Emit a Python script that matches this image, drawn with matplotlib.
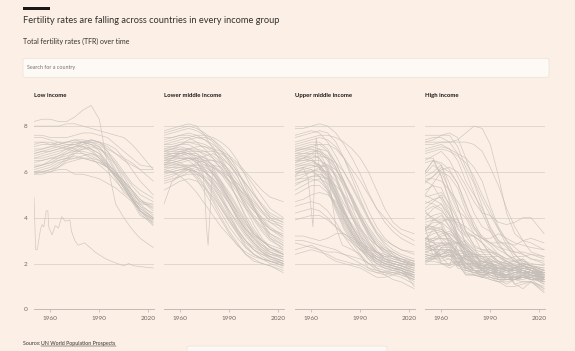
import matplotlib
matplotlib.use("Agg")
import matplotlib.pyplot as plt
from matplotlib.patches import Rectangle, FancyBboxPatch
from matplotlib.lines import Line2D

plt.rcParams['font.family'] = ['Lato', 'DejaVu Sans']

# ---------------- data ----------------
YEARS = [1950, 1955, 1960, 1965, 1970, 1975, 1980, 1985, 1990, 1995, 2000, 2005, 2010, 2015, 2023]

PANEL_TITLES = ["Low income", "Lower middle income", "Upper middle income", "High income"]
X_TICKS = [1960, 1990, 2020]
Y_TICKS = [0, 2, 4, 6, 8]

LOW = [
    [8.2, 8.3, 8.3, 8.2, 8.2, 8.4, 8.7, 8.9, 8.3, 6.3, 4.6, 4.0, 3.5, 3.1, 2.7],
    [8.0, 8.0, 8.0, 8.0, 8.1, 8.1, 8.0, 7.9, 7.8, 7.7, 7.6, 7.5, 7.2, 6.8, 6.1],
    [7.6, 7.6, 7.5, 7.5, 7.5, 7.6, 7.7, 7.7, 7.6, 7.5, 7.2, 6.9, 6.6, 6.3, 6.2],
    [7.5, 7.5, 7.4, 7.3, 7.2, 7.2, 7.3, 7.4, 7.3, 7.0, 6.8, 6.6, 6.4, 6.1, 5.6],
    [7.3, 7.3, 7.2, 7.2, 7.3, 7.4, 7.4, 7.3, 7.2, 6.9, 6.5, 6.0, 5.5, 5.2, 4.85],
    [7.1, 7.2, 7.2, 7.3, 7.3, 7.3, 7.3, 7.2, 7.0, 6.8, 6.4, 5.9, 5.4, 5.0, 4.7],
    [7.0, 7.0, 7.1, 7.2, 7.3, 7.4, 7.3, 7.0, 6.6, 6.2, 5.8, 5.4, 5.0, 4.7, 4.6],
    [6.9, 7.0, 7.1, 7.1, 7.0, 6.9, 6.9, 6.8, 6.6, 6.3, 6.0, 5.6, 5.1, 4.7, 4.4],
    [6.8, 6.9, 7.0, 7.1, 7.2, 7.2, 7.1, 6.9, 6.6, 6.2, 5.8, 5.4, 4.9, 4.5, 4.2],
    [6.7, 6.8, 6.9, 7.0, 7.1, 7.3, 7.3, 7.2, 6.9, 6.4, 5.9, 5.3, 4.8, 4.4, 4.0],
    [6.6, 6.7, 6.8, 6.9, 7.0, 7.1, 7.2, 7.3, 7.1, 6.6, 6.0, 5.4, 4.8, 4.3, 3.9],
    [6.5, 6.5, 6.6, 6.7, 6.8, 6.9, 7.0, 7.1, 7.0, 6.7, 6.3, 5.8, 5.2, 4.6, 4.1],
    [6.4, 6.5, 6.6, 6.6, 6.7, 6.8, 6.8, 6.7, 6.5, 6.2, 5.9, 5.5, 5.0, 4.5, 4.0],
    [6.3, 6.3, 6.4, 6.5, 6.6, 6.6, 6.7, 6.8, 6.7, 6.3, 5.8, 5.3, 4.8, 4.3, 3.8],
    [6.2, 6.3, 6.4, 6.6, 6.8, 7.0, 7.2, 7.4, 7.3, 6.9, 6.3, 5.6, 4.9, 4.3, 3.9],
    [6.1, 6.2, 6.3, 6.5, 6.6, 6.7, 6.6, 6.5, 6.4, 6.2, 5.9, 5.5, 4.9, 4.3, 3.7],
    [6.0, 6.1, 6.2, 6.4, 6.5, 6.6, 6.6, 6.5, 6.4, 6.2, 5.9, 5.6, 5.2, 4.8, 4.3],
    [6.0, 6.0, 6.1, 6.2, 6.4, 6.5, 6.6, 6.6, 6.5, 6.2, 5.8, 5.3, 4.8, 4.2, 3.65],
    [5.9, 6.0, 6.1, 6.3, 6.6, 6.9, 7.1, 7.2, 7.1, 6.7, 6.1, 5.4, 4.7, 4.1, 3.8],
    [5.9, 5.9, 6.0, 6.2, 6.5, 6.8, 7.0, 7.0, 6.8, 6.4, 6.0, 5.6, 5.2, 4.8, 4.45],
    [6.2, 6.3, 6.5, 6.7, 6.9, 7.1, 7.3, 7.4, 7.3, 7.1, 6.8, 6.5, 6.3, 6.1, 6.1],
    [6.6, 6.6, 6.7, 6.8, 7.0, 7.1, 7.1, 7.0, 6.8, 6.3, 5.7, 5.1, 4.8, 4.6, 4.55],
    [7.2, 7.3, 7.3, 7.2, 7.1, 7.0, 6.8, 6.6, 6.3, 6.0, 5.6, 5.2, 4.8, 4.4, 4.0],
    [6.0, 6.0, 6.0, 6.1, 6.1, 5.9, 5.9, 5.8, 5.7, 5.5, 5.3, 5.0, 4.7, 4.3, 3.95],
    [6.8, 6.9, 6.9, 7.0, 7.1, 7.2, 7.3, 7.3, 7.3, 7.2, 7.0, 6.6, 6.1, 5.6, 5.0],
]

# irregular-year series in the low income panel
LOW_EXTRA_YEARS = [1950, 1951, 1952, 1954, 1955, 1956, 1957.5, 1958.5, 1959, 1961, 1963, 1965,
                   1967, 1969, 1972, 1973, 1975, 1977, 1981, 1988, 1994, 1999, 2005, 2008, 2011, 2023]
LOW_EXTRA = [4.9, 2.6, 2.6, 3.5, 3.7, 3.6, 4.3, 4.3, 3.6, 3.25, 3.65, 3.55,
             4.05, 3.85, 3.9, 3.4, 3.0, 2.8, 2.9, 2.47, 2.2, 2.05, 1.9, 2.0, 1.9, 1.8]

LMID = [
    [7.8, 7.9, 8.0, 8.1, 8.0, 7.6, 7.0, 6.4, 5.8, 5.2, 4.6, 4.0, 3.5, 3.1, 2.8],
    [7.6, 7.7, 7.8, 7.9, 7.8, 7.6, 7.3, 6.9, 6.4, 5.8, 5.1, 4.5, 4.0, 3.6, 3.2],
    [7.5, 7.5, 7.6, 7.6, 7.5, 7.4, 7.2, 6.9, 6.5, 6.0, 5.5, 5.0, 4.5, 4.0, 3.5],
    [7.3, 7.4, 7.5, 7.5, 7.3, 7.0, 6.6, 6.1, 5.5, 4.8, 4.1, 3.5, 3.0, 2.7, 2.4],
    [7.2, 7.2, 7.3, 7.3, 7.2, 7.1, 7.0, 6.9, 6.7, 6.4, 6.0, 5.6, 5.2, 4.9, 4.7],
    [7.1, 7.1, 7.2, 7.2, 7.0, 6.7, 6.2, 5.6, 4.9, 4.2, 3.6, 3.1, 2.7, 2.4, 2.2],
    [7.0, 7.0, 7.1, 7.0, 6.8, 6.4, 5.9, 5.3, 4.6, 3.9, 3.3, 2.9, 2.6, 2.3, 2.0],
    [6.9, 7.0, 7.0, 7.0, 6.9, 6.8, 6.6, 6.3, 5.9, 5.4, 4.8, 4.3, 3.9, 3.5, 3.1],
    [6.9, 6.9, 7.0, 6.9, 6.6, 6.1, 5.5, 4.9, 4.2, 3.5, 3.0, 2.6, 2.3, 2.1, 1.9],
    [6.8, 6.9, 6.9, 6.8, 6.7, 6.6, 6.5, 6.2, 5.8, 5.2, 4.6, 4.1, 3.8, 3.5, 3.3],
    [6.8, 6.8, 6.8, 6.7, 6.4, 6.0, 5.4, 4.8, 4.1, 3.4, 2.8, 2.4, 2.2, 2.1, 2.0],
    [6.7, 6.8, 6.9, 7.0, 7.0, 6.9, 6.7, 6.4, 5.9, 5.3, 4.7, 4.3, 4.0, 3.8, 3.6],
    [6.7, 6.7, 6.6, 6.5, 6.2, 5.7, 5.1, 4.5, 3.9, 3.3, 2.7, 2.4, 2.2, 2.1, 1.9],
    [6.6, 6.7, 6.8, 6.8, 6.7, 6.5, 6.1, 5.5, 4.8, 4.1, 3.5, 3.0, 2.7, 2.5, 2.3],
    [6.6, 6.6, 6.6, 6.6, 6.5, 6.4, 6.2, 5.9, 5.6, 5.3, 5.0, 4.6, 4.2, 3.9, 3.7],
    [6.5, 6.6, 6.7, 6.8, 6.8, 6.6, 6.3, 5.9, 5.4, 4.9, 4.4, 4.0, 3.6, 3.3, 3.0],
    [6.5, 6.5, 6.4, 6.2, 5.9, 5.4, 4.8, 4.2, 3.6, 3.1, 2.7, 2.4, 2.2, 2.0, 1.8],
    [6.4, 6.5, 6.6, 6.6, 6.5, 6.3, 5.9, 5.4, 4.8, 4.2, 3.7, 3.3, 3.0, 2.7, 2.5],
    [6.3, 6.4, 6.5, 6.6, 6.6, 6.5, 6.3, 6.0, 5.6, 5.1, 4.5, 3.9, 3.4, 3.0, 2.7],
    [6.3, 6.3, 6.3, 6.2, 6.0, 5.6, 5.0, 4.4, 3.8, 3.3, 2.9, 2.6, 2.4, 2.3, 2.1],
    [6.2, 6.3, 6.4, 6.5, 6.6, 6.7, 6.8, 6.6, 6.3, 5.9, 5.5, 5.0, 4.6, 4.2, 3.9],
    [6.2, 6.2, 6.2, 6.1, 5.8, 5.3, 4.7, 4.0, 3.4, 2.9, 2.4, 2.1, 2.0, 1.9, 1.7],
    [6.1, 6.2, 6.3, 6.3, 6.2, 6.0, 5.7, 5.3, 4.8, 4.3, 3.8, 3.3, 2.9, 2.5, 2.2],
    [6.0, 6.1, 6.2, 6.3, 6.3, 6.2, 6.0, 5.6, 5.1, 4.5, 3.9, 3.4, 3.0, 2.7, 2.4],
    [6.0, 6.0, 6.1, 6.1, 6.0, 5.8, 5.5, 5.1, 4.6, 4.0, 3.4, 2.9, 2.5, 2.2, 2.0],
    [5.9, 6.0, 6.1, 6.2, 6.3, 6.3, 6.2, 6.0, 5.8, 5.5, 5.1, 4.7, 4.3, 4.0, 3.8],
    [5.8, 5.9, 6.0, 6.1, 6.0, 5.7, 5.2, 4.6, 4.0, 3.5, 3.0, 2.6, 2.4, 2.2, 2.0],
    [5.7, 5.8, 6.0, 6.2, 6.4, 6.5, 6.5, 6.4, 6.1, 5.6, 5.0, 4.4, 3.8, 3.3, 2.9],
    [5.6, 5.7, 5.8, 5.9, 5.9, 5.7, 5.3, 4.8, 4.3, 3.8, 3.3, 2.9, 2.6, 2.4, 2.3],
    [4.6, 5.6, 5.9, 6.1, 6.2, 6.1, 5.9, 5.5, 5.0, 4.4, 3.8, 3.2, 2.8, 2.5, 2.3],
    [7.4, 7.5, 7.6, 7.7, 7.6, 7.4, 7.1, 6.6, 6.0, 5.2, 4.4, 3.7, 3.1, 2.7, 2.4],
    [7.0, 7.1, 7.2, 7.3, 7.3, 7.2, 7.0, 6.7, 6.3, 5.8, 5.1, 4.4, 3.7, 3.1, 2.6],
    [6.4, 6.4, 6.3, 6.1, 5.7, 5.1, 4.5, 3.9, 3.3, 2.8, 2.4, 2.2, 2.0, 1.9, 1.6],
    [6.1, 6.0, 5.8, 5.5, 5.1, 4.6, 4.1, 3.6, 3.2, 2.8, 2.5, 2.3, 2.2, 2.1, 1.9],
    [6.9, 7.0, 7.2, 7.4, 7.5, 7.5, 7.4, 7.1, 6.7, 6.1, 5.3, 4.5, 3.8, 3.2, 2.8],
    [7.7, 7.8, 7.9, 8.0, 7.9, 7.7, 7.4, 7.0, 6.5, 6.0, 5.4, 4.8, 4.3, 3.8, 3.4],
    [6.7, 6.8, 6.8, 6.9, 6.9, 6.9, 6.9, 6.8, 6.6, 6.3, 5.9, 5.4, 4.9, 4.4, 4.0],
    [6.3, 6.4, 6.5, 6.6, 6.6, 6.4, 6.0, 5.4, 4.7, 4.0, 3.5, 3.2, 3.0, 2.8, 2.6],
    [6.6, 6.7, 6.7, 6.6, 6.4, 6.1, 5.6, 5.0, 4.3, 3.7, 3.2, 2.8, 2.5, 2.3, 2.1],
    [7.2, 7.3, 7.4, 7.5, 7.6, 7.6, 7.5, 7.3, 7.0, 6.5, 5.8, 5.1, 4.5, 4.1, 3.8],
    [5.2, 5.4, 5.6, 5.7, 5.6, 5.3, 4.9, 4.4, 3.9, 3.4, 3.0, 2.7, 2.5, 2.3, 2.1],
    [5.5, 5.6, 5.8, 6.0, 6.1, 6.0, 5.7, 5.2, 4.6, 4.0, 3.5, 3.1, 2.8, 2.6, 2.4],
    [6.5, 6.6, 6.8, 7.0, 7.1, 7.1, 6.9, 6.5, 6.0, 5.4, 4.9, 4.4, 3.9, 3.5, 3.2],
]

LMID_EXTRA_YEARS = [1950, 1955, 1960, 1965, 1970, 1974, 1975, 1976, 1977, 1978, 1979, 1980,
                    1985, 1990, 1995, 2000, 2005, 2010, 2015, 2023]
LMID_EXTRA = [6.3, 6.6, 6.9, 6.8, 6.5, 5.9, 5.0, 3.6, 2.8, 4.0, 5.3, 6.3,
              6.2, 5.6, 4.8, 4.0, 3.3, 3.0, 2.7, 2.4]

UMID = [
    [7.9, 7.9, 8.0, 8.1, 8.0, 7.7, 7.2, 6.6, 5.9, 5.1, 4.4, 3.8, 3.4, 3.1, 2.8],
    [7.6, 7.7, 7.8, 7.7, 7.3, 6.7, 6.0, 5.3, 4.6, 3.9, 3.3, 2.9, 2.6, 2.4, 2.2],
    [7.3, 7.4, 7.5, 7.6, 7.6, 7.5, 7.3, 7.0, 6.6, 6.0, 5.2, 4.4, 3.8, 3.5, 3.3],
    [7.1, 7.2, 7.3, 7.3, 7.0, 6.4, 5.6, 4.8, 4.0, 3.3, 2.8, 2.5, 2.3, 2.1, 1.9],
    [7.0, 7.1, 7.2, 7.2, 6.9, 6.2, 5.3, 4.4, 3.6, 3.0, 2.5, 2.2, 2.0, 1.9, 1.6],
    [6.9, 7.0, 7.0, 6.8, 6.2, 5.3, 4.4, 3.6, 3.0, 2.6, 2.3, 2.1, 2.0, 1.9, 1.7],
    [6.8, 6.9, 7.0, 6.9, 6.5, 5.7, 4.8, 4.0, 3.3, 2.8, 2.4, 2.1, 1.9, 1.8, 1.5],
    [6.8, 6.8, 6.8, 6.6, 6.0, 5.0, 4.1, 3.4, 2.9, 2.5, 2.2, 2.0, 1.8, 1.7, 1.4],
    [6.7, 6.8, 6.9, 6.9, 6.7, 6.2, 5.5, 4.7, 3.9, 3.2, 2.6, 2.2, 2.0, 1.9, 1.8],
    [6.7, 6.7, 6.6, 6.2, 5.4, 4.4, 3.6, 3.0, 2.6, 2.3, 2.1, 2.0, 1.9, 1.8, 1.6],
    [6.6, 6.7, 6.8, 6.8, 6.6, 6.1, 5.5, 4.9, 4.2, 3.6, 3.1, 2.7, 2.5, 2.3, 2.1],
    [6.5, 6.6, 6.7, 6.6, 6.1, 5.2, 4.3, 3.5, 2.9, 2.4, 2.0, 1.8, 1.7, 1.6, 1.3],
    [6.4, 6.6, 6.8, 7.0, 6.9, 6.4, 5.6, 4.7, 3.9, 3.3, 2.8, 2.5, 2.3, 2.2, 2.0],
    [6.4, 6.5, 6.5, 6.3, 5.8, 4.9, 4.0, 3.3, 2.8, 2.5, 2.3, 2.2, 2.1, 2.0, 1.8],
    [6.3, 6.4, 6.5, 6.5, 6.3, 5.8, 5.0, 4.2, 3.5, 2.9, 2.5, 2.3, 2.1, 2.0, 1.9],
    [6.2, 6.3, 6.4, 6.3, 5.9, 5.1, 4.2, 3.4, 2.8, 2.4, 2.1, 1.9, 1.8, 1.7, 1.5],
    [6.1, 6.2, 6.3, 6.2, 5.7, 4.9, 4.0, 3.3, 2.8, 2.4, 2.1, 1.9, 1.8, 1.6, 1.2],
    [6.0, 6.1, 6.2, 6.3, 6.2, 5.9, 5.4, 4.8, 4.1, 3.4, 2.8, 2.4, 2.2, 2.1, 2.0],
    [5.9, 6.0, 6.1, 6.0, 5.6, 4.8, 3.9, 3.2, 2.7, 2.3, 2.0, 1.8, 1.7, 1.6, 1.4],
    [5.8, 5.9, 6.0, 6.1, 6.0, 5.6, 4.9, 4.1, 3.4, 2.9, 2.5, 2.2, 2.1, 2.0, 1.9],
    [5.6, 5.8, 6.0, 6.2, 6.3, 6.1, 5.6, 4.9, 4.1, 3.4, 2.9, 2.6, 2.4, 2.2, 2.0],
    [5.4, 5.6, 5.8, 5.9, 5.7, 5.1, 4.3, 3.6, 3.0, 2.6, 2.3, 2.1, 2.0, 1.9, 1.7],
    [5.2, 5.4, 5.6, 5.7, 5.5, 4.9, 4.2, 3.6, 3.1, 2.7, 2.4, 2.2, 2.1, 2.0, 1.8],
    [5.0, 5.2, 5.4, 5.4, 5.1, 4.5, 3.8, 3.2, 2.7, 2.4, 2.2, 2.0, 1.9, 1.8, 1.6],
    [4.7, 4.8, 5.0, 5.1, 5.0, 4.7, 4.2, 3.7, 3.2, 2.8, 2.5, 2.3, 2.2, 2.1, 2.0],
    [4.5, 4.6, 4.7, 4.6, 4.3, 3.8, 3.2, 2.7, 2.3, 2.0, 1.8, 1.7, 1.6, 1.5, 1.3],
    [4.2, 4.3, 4.4, 4.3, 4.0, 3.6, 3.2, 2.9, 2.6, 2.4, 2.2, 2.1, 2.0, 1.9, 1.7],
    [3.9, 4.0, 4.1, 4.1, 3.9, 3.6, 3.3, 3.0, 2.8, 2.6, 2.5, 2.4, 2.3, 2.2, 2.1],
    [3.2, 3.2, 3.1, 3.0, 3.1, 3.3, 3.3, 3.1, 2.9, 2.7, 2.5, 2.3, 2.3, 2.2, 1.9],
    [2.9, 2.8, 2.7, 2.6, 2.5, 2.5, 2.4, 2.3, 2.2, 2.0, 1.9, 1.8, 1.8, 1.7, 1.5],
    [2.6, 2.7, 2.8, 2.6, 2.3, 2.1, 2.0, 1.9, 1.8, 1.6, 1.4, 1.4, 1.5, 1.6, 1.4],
    [2.4, 2.5, 2.6, 2.5, 2.4, 2.2, 2.1, 2.0, 1.9, 1.7, 1.6, 1.5, 1.6, 1.6, 1.5],
    [3.0, 3.0, 2.9, 2.8, 2.7, 2.6, 2.4, 2.2, 2.0, 1.8, 1.7, 1.6, 1.6, 1.5, 1.3],
    [6.9, 7.0, 7.1, 7.0, 6.6, 5.8, 4.9, 4.0, 3.2, 2.6, 2.2, 2.0, 1.9, 1.8, 1.6],
    [7.2, 7.3, 7.4, 7.5, 7.4, 7.1, 6.6, 5.9, 5.1, 4.3, 3.6, 3.1, 2.8, 2.6, 2.4],
    [6.5, 6.5, 6.6, 6.7, 6.6, 6.4, 6.0, 5.4, 4.7, 4.0, 3.4, 3.0, 2.8, 2.6, 2.5],
    [6.3, 6.3, 6.3, 6.2, 5.8, 5.1, 4.3, 3.6, 3.0, 2.5, 2.2, 2.0, 1.9, 1.7, 1.4],
    [6.0, 6.0, 6.0, 5.8, 5.3, 4.5, 3.7, 3.1, 2.6, 2.2, 2.0, 1.9, 1.8, 1.7, 1.5],
    [7.5, 7.6, 7.7, 7.8, 7.7, 7.3, 6.6, 5.7, 4.8, 4.0, 3.3, 2.8, 2.4, 2.1, 1.9],
    [6.6, 6.6, 6.5, 6.3, 5.9, 5.3, 4.6, 4.0, 3.5, 3.1, 2.8, 2.6, 2.5, 2.3, 2.1],
    [5.7, 5.7, 5.8, 5.8, 5.7, 5.4, 5.0, 4.5, 4.0, 3.5, 3.0, 2.6, 2.3, 2.1, 1.9],
    [6.1, 6.2, 6.1, 5.8, 5.2, 4.3, 3.5, 2.9, 2.4, 2.0, 1.7, 1.6, 1.5, 1.4, 1.1],
    [5.5, 5.6, 5.7, 5.6, 5.2, 4.6, 3.9, 3.3, 2.7, 2.2, 1.8, 1.5, 1.3, 1.2, 0.9],
    [7.0, 7.0, 7.1, 7.2, 7.2, 7.0, 6.6, 6.1, 5.6, 5.0, 4.4, 4.0, 3.6, 3.3, 3.0],
]

UMID_EXTRA_YEARS = [1950, 1955, 1958, 1960, 1961, 1962, 1963, 1965, 1968, 1970, 1973, 1975,
                    1979, 1985, 1990, 1995, 2000, 2010, 2015, 2023]
UMID_EXTRA = [5.8, 6.2, 5.7, 4.3, 3.6, 6.0, 7.5, 6.1, 6.4, 6.1, 4.6, 3.6,
              2.8, 2.6, 2.4, 1.8, 1.6, 1.7, 1.8, 1.0]

HIGH = [
    [7.3, 7.3, 7.3, 7.3, 7.4, 7.7, 8.0, 7.9, 7.2, 5.8, 4.2, 3.3, 3.0, 2.9, 2.6],
    [7.2, 7.2, 7.3, 7.3, 7.3, 7.3, 7.2, 6.9, 6.2, 5.4, 4.4, 3.6, 3.0, 2.5, 2.3],
    [7.3, 7.4, 7.6, 7.6, 7.1, 6.2, 5.5, 4.5, 3.5, 3.0, 2.8, 2.5, 2.4, 2.2, 2.1],
    [6.8, 6.9, 7.0, 6.9, 6.7, 6.4, 5.8, 5.0, 4.3, 3.5, 2.8, 2.2, 1.9, 1.7, 1.4],
    [6.9, 7.0, 7.1, 7.0, 6.5, 5.6, 5.0, 4.4, 3.6, 3.0, 2.7, 2.4, 2.1, 1.9, 1.8],
    [6.5, 6.7, 6.9, 6.5, 5.8, 5.1, 4.2, 3.6, 3.4, 2.9, 2.4, 2.1, 1.9, 1.8, 1.7],
    [7.0, 7.1, 7.2, 7.0, 6.8, 6.6, 6.2, 5.6, 4.5, 3.6, 3.0, 2.4, 2.0, 1.9, 1.8],
    [7.6, 7.6, 7.6, 7.7, 7.5, 6.6, 5.6, 4.8, 4.1, 3.5, 3.0, 2.7, 2.4, 2.2, 2.0],
    [5.6, 5.8, 6.1, 6.2, 6.0, 5.4, 4.7, 4.2, 4.1, 3.8, 3.7, 3.8, 4.0, 4.0, 3.3],
    [4.3, 3.9, 3.9, 3.9, 3.8, 3.6, 3.3, 3.1, 2.9, 2.9, 2.9, 2.8, 3.0, 3.1, 2.9],
    [5.9, 6.3, 6.0, 5.2, 4.5, 3.4, 2.8, 1.7, 1.6, 1.6, 1.5, 1.1, 1.2, 1.2, 0.72],
    [6.6, 6.6, 5.8, 4.7, 3.1, 2.1, 1.7, 1.6, 1.8, 1.7, 1.4, 1.3, 1.2, 1.2, 1.0],
    [4.4, 4.7, 5.0, 4.2, 3.3, 2.6, 2.0, 1.5, 1.3, 1.2, 1.0, 1.0, 1.1, 1.2, 0.8],
    [6.0, 6.5, 5.8, 4.8, 4.0, 2.8, 2.5, 1.9, 1.8, 1.8, 1.7, 1.1, 0.9, 1.2, 0.9],
    [5.0, 4.8, 4.6, 3.9, 3.3, 2.9, 2.6, 2.3, 2.2, 2.0, 1.9, 1.8, 1.6, 1.3, 0.9],
    [4.9, 5.0, 5.1, 4.6, 3.9, 3.2, 2.7, 2.6, 2.6, 2.3, 2.1, 1.9, 1.8, 1.7, 1.2],
    [2.7, 2.8, 2.9, 2.8, 2.9, 3.0, 2.6, 2.5, 2.5, 2.4, 2.2, 2.1, 2.0, 1.9, 1.3],
    [5.2, 5.4, 5.3, 4.5, 3.5, 3.2, 3.2, 2.9, 2.4, 2.0, 1.8, 1.7, 1.7, 1.6, 1.6],
    [4.7, 4.6, 4.4, 3.8, 3.0, 2.3, 2.0, 1.9, 1.8, 1.7, 1.7, 1.7, 1.6, 1.6, 1.6],
    [4.0, 4.4, 4.6, 4.1, 3.7, 3.3, 3.2, 2.9, 2.6, 2.4, 2.1, 1.9, 1.7, 1.5, 1.3],
    [4.3, 4.5, 4.3, 3.9, 3.2, 2.4, 2.1, 2.1, 2.1, 2.1, 2.0, 1.8, 1.7, 1.6, 1.6],
    [5.8, 6.0, 6.3, 5.5, 4.5, 3.4, 2.8, 2.6, 2.5, 2.3, 2.0, 1.8, 1.7, 1.6, 1.5],
    [5.5, 5.8, 6.2, 6.0, 5.5, 4.5, 3.8, 3.1, 2.8, 2.4, 2.2, 2.3, 2.3, 2.4, 2.2],
    [5.7, 5.7, 5.6, 5.2, 4.7, 4.1, 3.5, 3.1, 2.9, 2.7, 2.6, 2.5, 2.5, 2.4, 2.3],
    [6.0, 6.5, 6.3, 5.1, 4.3, 4.0, 3.3, 3.1, 3.1, 3.3, 3.1, 2.9, 2.8, 2.7, 2.6],
    [5.6, 5.4, 4.8, 4.1, 3.0, 2.6, 2.4, 2.3, 2.3, 2.3, 2.1, 1.9, 1.7, 1.5, 1.2],
    [3.6, 3.6, 3.5, 3.2, 2.6, 2.4, 2.4, 2.4, 2.4, 2.1, 1.7, 1.5, 1.4, 1.3, 1.4],
    [4.2, 4.0, 3.7, 2.8, 2.0, 2.2, 2.0, 1.9, 2.0, 1.9, 1.7, 1.4, 1.4, 1.4, 1.1],
    [5.0, 5.5, 6.0, 5.8, 5.3, 4.3, 3.6, 3.2, 2.9, 2.6, 2.4, 2.2, 2.1, 2.0, 1.9],
    [3.9, 4.1, 4.2, 3.6, 2.9, 2.7, 2.4, 2.0, 2.3, 2.1, 2.0, 2.0, 2.2, 1.8, 1.6],
    [3.4, 3.6, 3.8, 4.0, 3.9, 3.4, 3.2, 2.5, 2.1, 1.8, 1.9, 1.9, 2.0, 1.9, 1.7],
    [3.6, 2.3, 2.0, 2.0, 2.1, 1.9, 1.8, 1.8, 1.5, 1.4, 1.4, 1.3, 1.4, 1.4, 1.2],
    [3.1, 3.0, 3.1, 3.1, 2.9, 2.6, 2.2, 1.7, 1.6, 1.4, 1.5, 1.4, 1.4, 1.3, 1.4],
    [2.5, 2.6, 2.8, 2.9, 2.9, 2.8, 2.2, 1.6, 1.4, 1.2, 1.2, 1.3, 1.4, 1.3, 1.2],
    [2.4, 2.3, 2.4, 2.6, 2.4, 2.2, 1.7, 1.4, 1.3, 1.2, 1.3, 1.3, 1.4, 1.4, 1.2],
    [2.4, 2.3, 2.3, 2.3, 2.4, 2.3, 2.2, 1.7, 1.4, 1.3, 1.3, 1.3, 1.5, 1.3, 1.3],
    [2.9, 2.7, 2.8, 2.8, 2.5, 2.0, 1.9, 1.8, 1.8, 1.7, 1.9, 1.9, 2.0, 1.9, 1.7],
    [2.2, 2.2, 2.7, 2.9, 2.4, 1.8, 1.9, 1.8, 1.8, 1.7, 1.6, 1.8, 1.9, 1.8, 1.5],
    [2.1, 2.2, 2.4, 2.5, 2.0, 1.5, 1.5, 1.4, 1.4, 1.3, 1.4, 1.4, 1.4, 1.5, 1.4],
    [3.1, 3.1, 3.1, 3.0, 2.6, 1.7, 1.6, 1.5, 1.6, 1.5, 1.7, 1.7, 1.8, 1.7, 1.5],
    [2.3, 2.4, 2.6, 2.6, 2.2, 1.7, 1.7, 1.5, 1.6, 1.6, 1.7, 1.8, 1.9, 1.7, 1.5],
    [2.3, 2.2, 2.2, 2.4, 1.9, 1.8, 1.7, 1.7, 2.1, 1.7, 1.5, 1.8, 2.0, 1.9, 1.5],
    [2.5, 2.6, 2.9, 2.9, 2.5, 2.0, 1.7, 1.7, 1.9, 1.9, 1.9, 1.8, 2.0, 1.7, 1.4],
    [2.6, 2.6, 2.6, 2.6, 2.0, 1.9, 1.5, 1.4, 1.7, 1.8, 1.8, 1.8, 1.9, 1.7, 1.6],
    [3.1, 2.9, 2.7, 2.4, 1.8, 1.7, 1.6, 1.6, 1.8, 1.8, 1.7, 1.8, 1.9, 1.7, 1.3],
    [2.1, 2.3, 2.7, 2.7, 2.3, 1.8, 1.6, 1.5, 1.5, 1.4, 1.4, 1.4, 1.4, 1.5, 1.4],
    [2.4, 2.3, 2.4, 2.6, 2.1, 1.6, 1.5, 1.5, 1.6, 1.5, 1.5, 1.4, 1.5, 1.5, 1.4],
    [3.0, 3.5, 3.6, 2.9, 2.5, 1.8, 1.8, 1.8, 2.1, 2.0, 2.1, 2.1, 1.9, 1.8, 1.6],
    [3.5, 3.8, 3.8, 3.1, 2.3, 1.8, 1.7, 1.6, 1.8, 1.6, 1.5, 1.6, 1.6, 1.6, 1.3],
    [3.1, 3.3, 3.4, 3.0, 2.9, 2.2, 1.9, 1.9, 1.9, 1.8, 1.8, 1.8, 1.9, 1.8, 1.6],
    [3.5, 3.9, 4.1, 3.6, 3.2, 2.4, 2.0, 2.0, 2.2, 2.0, 2.0, 2.1, 2.2, 1.9, 1.7],
    [3.7, 3.6, 3.0, 2.5, 2.2, 2.3, 2.3, 2.3, 2.1, 1.6, 1.4, 1.3, 1.4, 1.3, 1.3],
    [2.8, 2.6, 2.1, 2.2, 1.9, 2.4, 2.1, 1.9, 1.9, 1.3, 1.1, 1.3, 1.5, 1.6, 1.6],
    [2.6, 2.8, 2.0, 1.8, 2.0, 2.4, 1.9, 1.8, 1.8, 1.6, 1.3, 1.3, 1.3, 1.4, 1.5],
    [3.5, 3.5, 3.1, 2.8, 2.4, 2.5, 2.3, 2.2, 2.1, 1.5, 1.3, 1.3, 1.4, 1.4, 1.6],
    [2.1, 2.1, 2.0, 1.9, 2.1, 2.0, 2.0, 2.1, 2.0, 1.4, 1.4, 1.5, 1.7, 1.6, 1.4],
    [2.7, 2.6, 2.6, 2.3, 2.4, 2.2, 2.0, 2.1, 2.0, 1.5, 1.4, 1.3, 1.5, 1.7, 1.3],
    [2.9, 2.7, 2.3, 2.2, 1.9, 2.0, 2.0, 1.9, 1.7, 1.5, 1.4, 1.4, 1.5, 1.4, 1.6],
    [2.8, 2.6, 2.3, 2.4, 2.2, 2.2, 2.1, 1.7, 1.5, 1.3, 1.3, 1.3, 1.6, 1.6, 1.5],
    [2.0, 2.2, 2.3, 2.4, 2.0, 1.5, 1.5, 1.4, 1.6, 1.7, 1.8, 1.7, 1.6, 1.5, 1.3],
    [3.1, 3.0, 2.3, 1.9, 2.9, 2.6, 2.4, 2.3, 1.8, 1.3, 1.3, 1.4, 1.6, 1.6, 1.7],
    [3.3, 3.4, 3.5, 3.2, 2.8, 2.3, 2.0, 1.8, 1.7, 1.6, 1.5, 1.5, 1.6, 1.5, 1.3],
    [2.8, 3.0, 3.2, 3.3, 3.0, 2.5, 2.1, 1.8, 1.6, 1.5, 1.5, 1.6, 1.7, 1.6, 1.4],
    [3.0, 2.9, 2.9, 2.7, 2.3, 2.0, 1.9, 1.7, 1.7, 1.6, 1.7, 1.8, 1.8, 1.7, 1.5],
    [2.5, 2.4, 2.4, 2.5, 2.6, 2.5, 2.2, 1.9, 1.8, 1.6, 1.5, 1.6, 1.7, 1.6, 1.4],
    [3.6, 3.5, 3.4, 3.3, 3.1, 2.8, 2.5, 2.2, 2.0, 1.8, 1.7, 1.7, 1.8, 1.7, 1.5],
    [2.2, 2.3, 2.5, 2.6, 2.4, 2.0, 1.7, 1.6, 1.6, 1.5, 1.5, 1.6, 1.7, 1.6, 1.5],
    [3.8, 3.9, 3.8, 3.5, 3.0, 2.6, 2.3, 2.1, 2.0, 1.9, 1.8, 1.7, 1.6, 1.5, 1.2],
    [2.9, 3.1, 3.3, 3.4, 3.2, 2.7, 2.3, 2.0, 1.9, 1.8, 1.7, 1.7, 1.8, 1.7, 1.6],
    [4.6, 4.8, 4.9, 4.4, 3.6, 2.9, 2.4, 2.1, 1.9, 1.8, 1.7, 1.6, 1.6, 1.5, 1.4],
    [6.4, 6.5, 6.4, 6.1, 5.5, 4.6, 3.6, 2.9, 2.4, 2.1, 1.8, 1.6, 1.5, 1.4, 1.1],
    [7.4, 7.5, 7.5, 7.3, 6.8, 6.0, 5.1, 4.2, 3.4, 2.8, 2.4, 2.1, 1.9, 1.8, 1.6],
]

SOURCE_LABEL = "Source: "
SOURCE_LINK = "UN World Population Prospects"
TITLE = "Fertility rates are falling across countries in every income group"
SUBTITLE = "Total fertility rates (TFR) over time"
SEARCH_PLACEHOLDER = "Search for a country"

# ---------------- style ----------------
W, H = 575, 351
BG = "#fcf0e6"
LINE_C = "#c6bfb9"
GRID_C = "#e0d7ce"
AXIS_C = "#c2bbb5"
TXT = "#33302e"
TICK_TXT = "#6b6560"


def fx(px):
    return px / W


def fy(py):
    return 1 - py / H


fig = plt.figure(figsize=(W / 100, H / 100), dpi=100, facecolor=BG)

# header bar
fig.patches.append(Rectangle((fx(23), fy(9.5)), fx(49.5) - fx(23), (9.5 - 7.2) / H,
                             transform=fig.transFigure, color="#1a1817", lw=0))
fig.text(fx(22.7), fy(20.5), TITLE, fontsize=6.7, color=TXT, va="center", ha="left")
fig.text(fx(22.7), fy(41.5), SUBTITLE, fontsize=5.0, color=TXT, va="center", ha="left")

# search box
fig.patches.append(FancyBboxPatch((fx(23), fy(77.3)), fx(549) - fx(23), (77.3 - 58.3) / H,
                                  boxstyle="round,pad=0,rounding_size=0.004",
                                  transform=fig.transFigure, facecolor="#fdf9f5",
                                  edgecolor="#ebe2d9", lw=0.5))
fig.text(fx(27.3), fy(67.8), SEARCH_PLACEHOLDER, fontsize=3.9, color="#77716c",
         va="center", ha="left")

panels = [(LOW, LOW_EXTRA_YEARS, LOW_EXTRA),
          (LMID, LMID_EXTRA_YEARS, LMID_EXTRA),
          (UMID, UMID_EXTRA_YEARS, UMID_EXTRA),
          (HIGH, None, None)]
lefts = [34, 164, 295, 425]
pw = 120
y0_px = 309.3
unit_px = 22.9
ymax = 9.0

for i, (series, ex_years, ex_vals) in enumerate(panels):
    left = lefts[i]
    ax = fig.add_axes([fx(left), fy(y0_px), pw / W, ymax * unit_px / H])
    ax.set_facecolor("none")
    ax.set_xlim(1950, 2023.5)
    ax.set_ylim(0, ymax)
    for s in ["top", "right", "left"]:
        ax.spines[s].set_visible(False)
    ax.spines["bottom"].set_color(AXIS_C)
    ax.spines["bottom"].set_linewidth(0.7)
    for g in [2, 4, 6, 8]:
        ax.axhline(g, color=GRID_C, lw=0.7, zorder=0)
    for vals in series:
        ax.plot(YEARS, vals, color=LINE_C, lw=0.5, alpha=0.8, zorder=2,
                solid_joinstyle="round", solid_capstyle="round")
    if ex_years is not None:
        ax.plot(ex_years, ex_vals, color=LINE_C, lw=0.5, alpha=0.8, zorder=2,
                solid_joinstyle="round")
    ax.set_xticks(X_TICKS)
    ax.set_xticklabels([str(t) for t in X_TICKS])
    ax.tick_params(axis="x", length=2.2, width=0.6, color=AXIS_C, labelsize=4.6,
                   labelcolor=TICK_TXT, pad=2.5)
    if i == 0:
        ax.set_yticks(Y_TICKS)
        ax.set_yticklabels([str(t) for t in Y_TICKS])
        ax.tick_params(axis="y", length=0, labelsize=4.6, labelcolor=TICK_TXT, pad=4.5)
    else:
        ax.set_yticks([])
    fig.text(fx(left), fy(95.3), PANEL_TITLES[i], fontsize=4.3, fontweight="bold",
             color="#1a1817", va="center", ha="left")

# source line
src = fig.text(fx(22.7), fy(343.5), SOURCE_LABEL, fontsize=3.8, color=TXT, va="center", ha="left")
fig.canvas.draw()
r = fig.canvas.get_renderer()
bb = src.get_window_extent(r)
link = fig.text(bb.x1 / W, fy(343.5), SOURCE_LINK, fontsize=3.8, color=TXT, va="center", ha="left")
fig.canvas.draw()
lb = link.get_window_extent(r)
fig.lines.append(Line2D([lb.x0 / W, lb.x1 / W], [(lb.y0 - 0.3) / H, (lb.y0 - 0.3) / H],
                        transform=fig.transFigure, color=TXT, lw=0.35))

# bottom partial widget
fig.patches.append(FancyBboxPatch((fx(187), fy(353)), fx(387) - fx(187), 7 / H,
                                  boxstyle="round,pad=0,rounding_size=0.005",
                                  transform=fig.transFigure, facecolor="#fdf8f4",
                                  edgecolor="#ebe2d9", lw=0.5))

fig.savefig("out.png", dpi=100, facecolor=BG)
